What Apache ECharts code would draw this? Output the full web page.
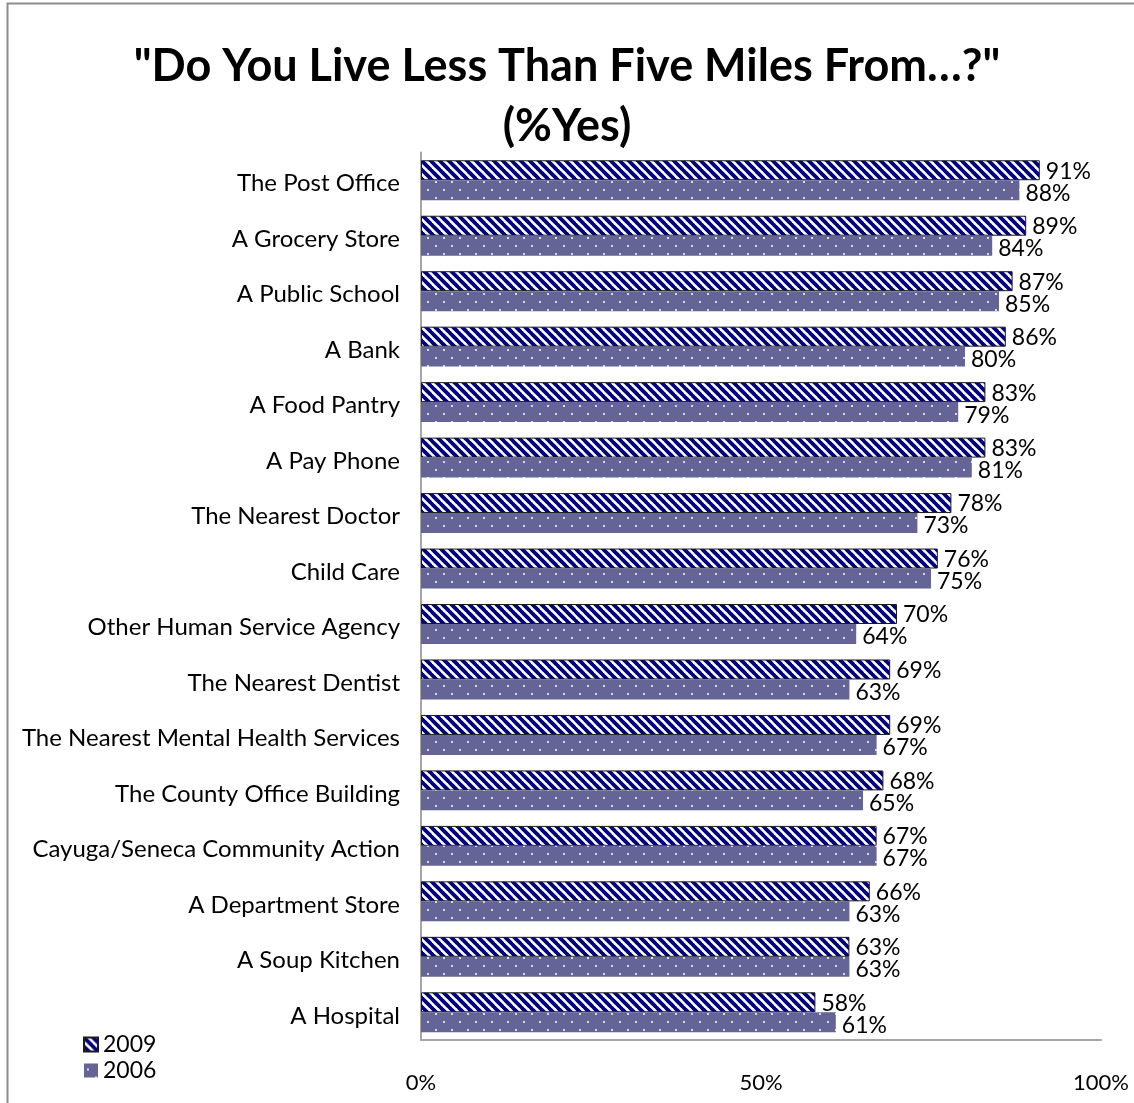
<!DOCTYPE html>
<html>
<head>
<meta charset="utf-8">
<title>Distance to services</title>
<script src="https://cdn.jsdelivr.net/npm/echarts@6/dist/echarts.min.js"></script>
<style>
  html, body { margin: 0; padding: 0; background: #fff; }
  #chart { width: 1134px; height: 1103px; }
</style>
</head>
<body>
<div id="chart"></div>
<script>
// Survey answers: share who live less than five miles from each service
const categories = [
  'The Post Office', 'A Grocery Store', 'A Public School', 'A Bank',
  'A Food Pantry', 'A Pay Phone', 'The Nearest Doctor', 'Child Care',
  'Other Human Service Agency', 'The Nearest Dentist',
  'The Nearest Mental Health Services', 'The County Office Building',
  'Cayuga/Seneca Community Action', 'A Department Store', 'A Soup Kitchen',
  'A Hospital'
];
const values2009 = [91, 89, 87, 86, 83, 83, 78, 76, 70, 69, 69, 68, 67, 66, 63, 58];
const values2006 = [88, 84, 85, 80, 79, 81, 73, 75, 64, 63, 67, 65, 67, 63, 63, 61];
const axisTicks = [0, 50, 100];

const FONT = 'Lato, "Open Sans", sans-serif';

// Diagonal navy stripes on white
function stripeTile() {
  const c = document.createElement('canvas');
  c.width = 9; c.height = 9;
  const g = c.getContext('2d');
  g.fillStyle = '#ffffff';
  g.fillRect(0, 0, 9, 9);
  g.strokeStyle = '#000080';
  g.lineWidth = 3.8;
  for (let k = -1; k <= 1; k++) {
    g.beginPath();
    g.moveTo(k * 9 - 1, -1);
    g.lineTo(k * 9 + 10, 10);
    g.stroke();
  }
  return c;
}

// Slate fill with a staggered grid of small light dots
function dotTile() {
  const c = document.createElement('canvas');
  c.width = 16; c.height = 16;
  const g = c.getContext('2d');
  g.fillStyle = '#646496';
  g.fillRect(0, 0, 16, 16);
  g.fillStyle = '#d8d8ec';
  g.fillRect(3, 5, 2, 2);
  g.fillRect(11, 13, 2, 2);
  return c;
}

const stripeFill = { image: stripeTile(), repeat: 'repeat' };
const dotFill = { image: dotTile(), repeat: 'repeat' };

const chart = echarts.init(document.getElementById('chart'), null, { renderer: 'canvas' });

const valueLabel = {
  show: true,
  position: 'right',
  distance: 6,
  formatter: p => p.value + '%',
  fontFamily: FONT,
  fontSize: 23,
  color: '#000'
};

chart.setOption({
  animation: false,
  backgroundColor: '#fff',
  title: {
    text: '"Do You Live Less Than Five Miles From…?"\n(%Yes)',
    left: 'center',
    top: 31,
    textStyle: {
      fontFamily: FONT,
      fontWeight: 'bold',
      fontSize: 45,
      lineHeight: 60,
      color: '#000'
    }
  },
  legend: {
    orient: 'vertical',
    left: 78,
    top: 1028,
    itemWidth: 14,
    itemHeight: 14,
    itemGap: 3,
    icon: 'rect',
    textStyle: { fontFamily: FONT, fontSize: 23, color: '#000' },
    data: ['2009', '2006']
  },
  grid: {
    left: 421,
    right: 33,
    top: 152.5,
    bottom: 63,
    containLabel: false
  },
  xAxis: {
    type: 'value',
    min: 0,
    max: 100,
    interval: 50,
    axisLine: { show: true, lineStyle: { color: '#a6a6a6', width: 2 } },
    axisTick: { show: false },
    splitLine: { show: false },
    axisLabel: {
      margin: 32,
      fontFamily: FONT,
      fontSize: 22,
      color: '#000',
      formatter: v => (axisTicks.indexOf(v) >= 0 ? v + '%' : '')
    }
  },
  yAxis: {
    type: 'category',
    inverse: true,
    data: categories,
    axisLine: { show: true, lineStyle: { color: '#a6a6a6', width: 2 } },
    axisTick: { show: false },
    axisLabel: {
      margin: 21,
      formatter: v => '{c|' + v + '}',
      rich: {
        c: {
          fontFamily: FONT,
          fontSize: 24,
          color: '#000',
          padding: [7, 0, 0, 0]
        }
      }
    }
  },
  series: [
    {
      name: '2009',
      type: 'bar',
      data: values2009,
      barGap: '0%',
      barCategoryGap: '28%',
      itemStyle: { color: stripeFill, borderColor: '#1a1a1a', borderWidth: 1 },
      label: Object.assign({}, valueLabel, { offset: [0, 1] })
    },
    {
      name: '2006',
      type: 'bar',
      data: values2006,
      barGap: '0%',
      barCategoryGap: '28%',
      itemStyle: { color: dotFill },
      label: Object.assign({}, valueLabel, { offset: [0, 3] })
    }
  ],
  graphic: [
    {
      type: 'polyline',
      silent: true,
      shape: { points: [[1134, 3.5], [7.5, 3.5], [7.5, 1103]] },
      style: { stroke: '#8c8c8c', lineWidth: 2, fill: null }
    }
  ]
});
</script>
</body>
</html>
